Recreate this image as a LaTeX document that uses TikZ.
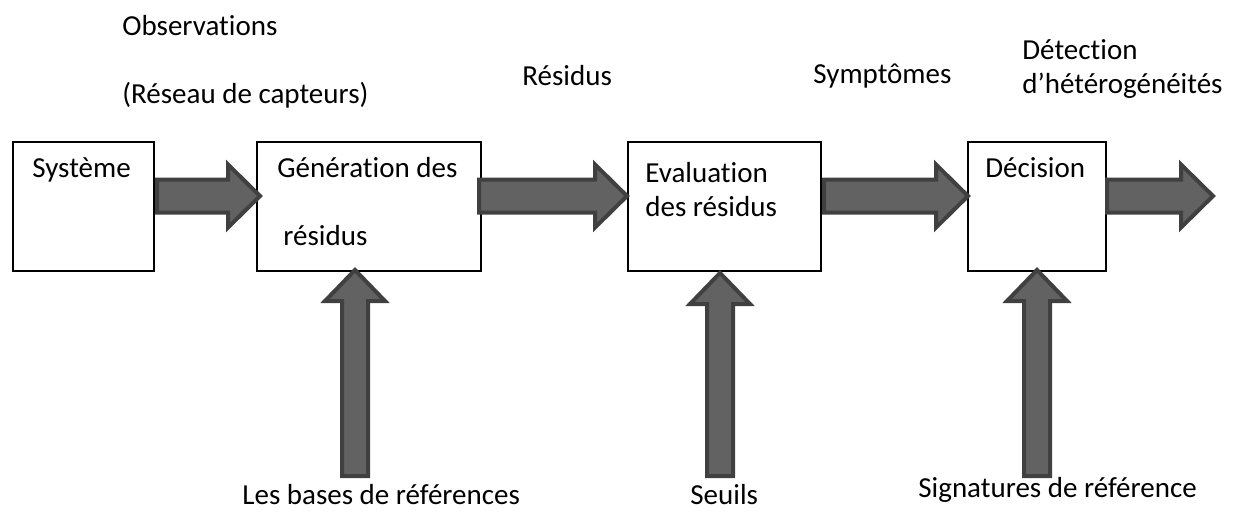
\documentclass[tikz,border=0pt]{standalone}
\usepackage{fontspec}
\setmainfont[Ligatures=NoCommon]{Carlito}
\usetikzlibrary{calc}
\tikzset{
  box/.style={draw=black, line width=0.9pt, fill=white, anchor=north west, inner sep=0pt},
  lbl/.style={anchor=base west, inner sep=0pt, font=\fontsize{14.5}{17}\selectfont},
  barrow/.style={draw=arrowedge, fill=arrowfill, line width=2pt, line join=miter},
}
\definecolor{arrowfill}{HTML}{626262}
\definecolor{arrowedge}{HTML}{404040}
% horizontal block arrow: #1 start coord, #2 tip coord (same y used from #1)
\newcommand{\blockH}[2]{%
  \path[barrow] let \p1=(#1), \p2=(#2) in
    (\x1,\y1+8.25pt) -- (\x2-16pt,\y1+8.25pt) -- (\x2-16pt,\y1+15.75pt) -- (\x2,\y1)
    -- (\x2-16pt,\y1-15.75pt) -- (\x2-16pt,\y1-8.25pt) -- (\x1,\y1-8.25pt) -- cycle;}
% vertical block arrow: #1 bottom coord, #2 tip coord (x used from #1)
\newcommand{\blockV}[2]{%
  \path[barrow] let \p1=(#1), \p2=(#2) in
    (\x1-6.5pt,\y1) -- (\x1-6.5pt,\y2-15.5pt) -- (\x1-15pt,\y2-15.5pt) -- (\x1,\y2)
    -- (\x1+15pt,\y2-15.5pt) -- (\x1+6.5pt,\y2-15.5pt) -- (\x1+6.5pt,\y1) -- cycle;}
\begin{document}
\begin{tikzpicture}[x=0.5pt,y=-0.5pt]
\useasboundingbox (0,0) rectangle (1238,511);

% boxes
\node[box, minimum width=70.5pt, minimum height=64.5pt] (sys) at (12,141) {};
\node[box, minimum width=112pt, minimum height=64.5pt] (gen) at (256,141) {};
\node[box, minimum width=96.5pt, minimum height=64.5pt] (eval) at (627,141) {};
\node[box, minimum width=69pt, minimum height=64.5pt] (dec) at (967,141) {};

% box texts
\node[lbl] (tsys) at (32,177) {Système};
\node[lbl] (tgen1) at (277,177) {Génération des};
\node[lbl] (tgen2) at (283,245) {résidus};
\node[lbl] (teval1) at (645,182) {Evaluation};
\node[lbl] (teval2) at (645,216) {des résidus};
\node[lbl] (tdec) at (985,177) {Décision};

% top labels
\node[lbl] (obs) at (122,35) {Observations};
\node[lbl] (res) at (122,103) {(Réseau de capteurs)};
\node[lbl] (resid) at (522,85) {Résidus};
\node[lbl] (sympt) at (813,83) {Symptômes};
\node[lbl] (det1) at (1022,59) {Détection};
\node[lbl] (det2) at (1022,93) {d’hétérogénéités};

% bottom labels
\node[lbl] (bases) at (242,504) {Les bases de références};
\node[lbl] (seuils) at (690,504) {Seuils};
\node[lbl] (sign) at (918,497) {Signatures de référence};

% coordinates for arrows
\coordinate (a1s) at (157,196);
\coordinate (a1t) at (260,196);
\coordinate (a2s) at (479,196);
\coordinate (a2t) at (627,196);
\coordinate (a3s) at (824,196);
\coordinate (a3t) at (968,196);
\coordinate (a4s) at (1107,196);
\coordinate (a4t) at (1213,196);
\coordinate (v1b) at (355,476);
\coordinate (v1t) at (355,270);
\coordinate (v2b) at (720,476);
\coordinate (v2t) at (720,273);
\coordinate (v3b) at (1037,476);
\coordinate (v3t) at (1037,270);

\blockH{a1s}{a1t}
\blockH{a2s}{a2t}
\blockH{a3s}{a3t}
\blockH{a4s}{a4t}
\blockV{v1b}{v1t}
\blockV{v2b}{v2t}
\blockV{v3b}{v3t}
\end{tikzpicture}
\end{document}
